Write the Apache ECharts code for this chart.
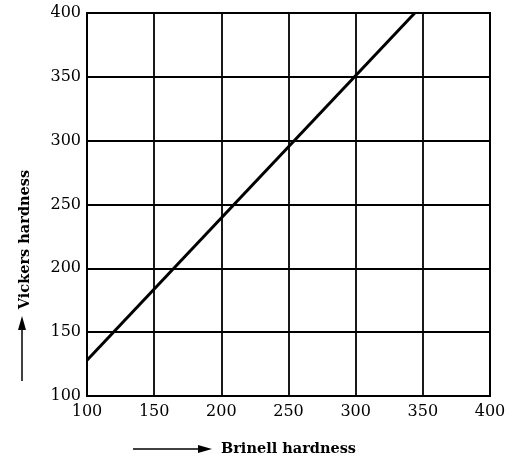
<!DOCTYPE html>
<html>
<head>
<meta charset="utf-8">
<script src="https://cdn.jsdelivr.net/npm/echarts@6/dist/echarts.min.js"></script>
<style>html,body{margin:0;padding:0;background:#fff}#c{width:512px;height:459px}</style>
</head>
<body>
<div id="c"></div>
<script>
// Data
var brinell = [100, 344];
var vickers = [128, 400];
var xTicks = [100, 150, 200, 250, 300, 350, 400];
var yTicks = [100, 150, 200, 250, 300, 350, 400];
var xName = 'Brinell hardness';
var yName = 'Vickers hardness';

var lineData = brinell.map(function (b, i) { return [b, vickers[i]]; });
var chart = echarts.init(document.getElementById('c'), null, {renderer: 'canvas'});
var serif = 'DejaVu Serif';
chart.setOption({
  animation: false,
  backgroundColor: '#fff',
  grid: {left: 87, right: 22, top: 13, bottom: 63, show: true, borderColor: '#000', borderWidth: 2,
         outerBoundsMode: 'none', containLabel: false},
  xAxis: {
    type: 'value', min: xTicks[0], max: xTicks[xTicks.length - 1], interval: 50,
    name: xName, nameLocation: 'middle', nameGap: 46,
    nameTextStyle: {fontFamily: serif, fontSize: 14.5, fontWeight: 'bold', color: '#000'},
    axisLine: {show: true, lineStyle: {color: '#000', width: 2}},
    axisTick: {show: false},
    axisLabel: {fontFamily: serif, fontSize: 16, color: '#000', margin: 8},
    splitLine: {show: true, lineStyle: {color: '#000', width: 1.8}}
  },
  yAxis: {
    type: 'value', min: yTicks[0], max: yTicks[yTicks.length - 1], interval: 50,
    name: yName, nameLocation: 'middle', nameGap: 54, nameRotate: 90,
    nameTextStyle: {fontFamily: serif, fontSize: 14.5, fontWeight: 'bold', color: '#000', padding: [0, 70, 0, 0]},
    axisLine: {show: true, lineStyle: {color: '#000', width: 2}},
    axisTick: {show: false},
    axisLabel: {fontFamily: serif, fontSize: 16, color: '#000', margin: 6},
    splitLine: {show: true, lineStyle: {color: '#000', width: 1.8}}
  },
  series: [{
    type: 'line', data: lineData, symbol: 'none',
    lineStyle: {color: '#000', width: 3}
  }],
  graphic: [
    {type: 'line', shape: {x1: 133, y1: 449, x2: 202, y2: 449}, style: {stroke: '#000', lineWidth: 1.5}},
    {type: 'polygon', shape: {points: [[198, 445], [212, 449], [198, 453]]}, style: {fill: '#000'}},
    {type: 'line', shape: {x1: 22, y1: 381, x2: 22, y2: 326}, style: {stroke: '#000', lineWidth: 1.5}},
    {type: 'polygon', shape: {points: [[18, 330], [22, 316], [26, 330]]}, style: {fill: '#000'}}
  ]
});
</script>
</body>
</html>
